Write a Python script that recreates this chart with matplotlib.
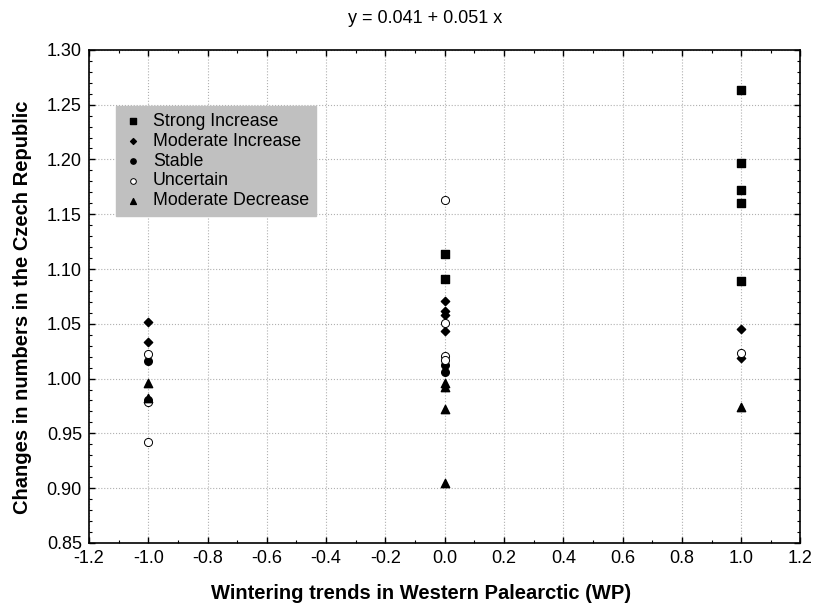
import matplotlib
matplotlib.use("Agg")
import matplotlib.pyplot as plt
from matplotlib.ticker import MultipleLocator

plt.rcParams["font.family"] = ["Liberation Sans", "DejaVu Sans"]

# wintering trend (x) and change in CZ numbers (y) per group
strong_x = [0, 0, 1, 1, 1, 1, 1]
strong_y = [1.114, 1.091, 1.263, 1.197, 1.172, 1.160, 1.089]

moderate_inc_x = [-1, -1, 0, 0, 0, 0, 1, 1]
moderate_inc_y = [1.052, 1.033, 1.071, 1.062, 1.058, 1.043, 1.045, 1.019]

stable_x = [-1, -1, 0, 0]
stable_y = [1.016, 0.980, 1.012, 1.006]

uncertain_x = [-1, -1, -1, 0, 0, 0, 0, 1]
uncertain_y = [1.022, 0.979, 0.942, 1.163, 1.051, 1.021, 1.017, 1.023]

moderate_dec_x = [-1, -1, 0, 0, 0, 0, 1]
moderate_dec_y = [0.996, 0.982, 0.996, 0.992, 0.972, 0.905, 0.974]

fig = plt.figure(figsize=(8.16, 6.08), dpi=100)
ax = fig.add_axes([0.109, 0.107, 0.872, 0.811])

ax.scatter(strong_x, strong_y, marker="s", s=38, c="black", label="Strong Increase", zorder=3)
ax.scatter(moderate_inc_x, moderate_inc_y, marker="D", s=18, c="black", label="Moderate Increase", zorder=3)
ax.scatter(stable_x, stable_y, marker="o", s=30, c="black", label="Stable", zorder=3)
ax.scatter(uncertain_x, uncertain_y, marker="o", s=34, facecolors="white", edgecolors="black",
           linewidths=0.7, label="Uncertain", zorder=4)
ax.scatter(moderate_dec_x, moderate_dec_y, marker="^", s=36, c="black", label="Moderate Decrease", zorder=5)

ax.set_xlim(-1.2, 1.2)
ax.set_ylim(0.85, 1.30)
ax.xaxis.set_major_locator(MultipleLocator(0.2))
ax.xaxis.set_minor_locator(MultipleLocator(0.1))
ax.yaxis.set_major_locator(MultipleLocator(0.05))
ax.yaxis.set_minor_locator(MultipleLocator(0.01))
ax.xaxis.set_major_formatter(plt.FuncFormatter(lambda v, p: f"{v:.1f}"))
ax.yaxis.set_major_formatter(plt.FuncFormatter(lambda v, p: f"{v:.2f}"))
ax.tick_params(which="both", direction="in", top=True, right=True, labelsize=13)
ax.tick_params(which="major", length=4, width=1, pad=5)
ax.tick_params(which="minor", length=2, width=0.8)
ax.grid(True, which="major", linestyle=":", color="#b0b0b0", linewidth=0.8)
ax.set_axisbelow(True)
for spine in ax.spines.values():
    spine.set_linewidth(1.2)

ax.set_xlabel("Wintering trends in Western Palearctic (WP)", fontsize=14.5, fontweight="bold")
ax.xaxis.set_label_coords(0.467, -0.084)
ax.set_ylabel("Changes in numbers in the Czech Republic", fontsize=14.5, fontweight="bold")
ax.yaxis.set_label_coords(-0.08, 0.478)
ax.text(0.473, 1.064, "y = 0.041 + 0.051 x", transform=ax.transAxes, fontsize=13,
        ha="center", va="center")

leg = ax.legend(loc="upper left", bbox_to_anchor=(0.038, 0.886), frameon=True, fancybox=False,
                fontsize=12.8, markerscale=0.7, handletextpad=0.5, borderpad=0.38,
                labelspacing=0.16, handlelength=1.2, borderaxespad=0)
leg.get_frame().set_facecolor("#c0c0c0")
leg.get_frame().set_edgecolor("#c0c0c0")
leg.get_frame().set_alpha(1)

fig.savefig("out.png", dpi=100)
